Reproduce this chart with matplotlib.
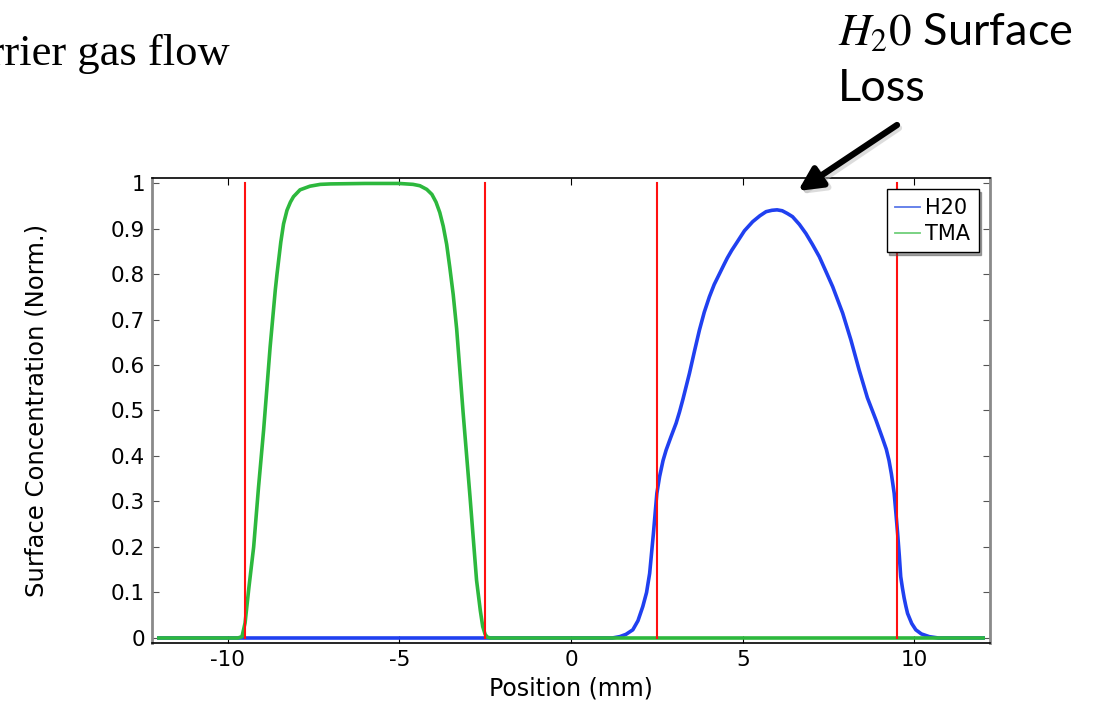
import numpy as np
import matplotlib
matplotlib.use("Agg")
import matplotlib.pyplot as plt
from matplotlib.patches import FancyArrowPatch
from matplotlib.ticker import FuncFormatter

plt.rcParams['font.family'] = ['DejaVu Sans']
plt.rcParams['mathtext.fontset'] = 'stix'
plt.rcParams['axes.unicode_minus'] = False

# surface concentration profiles along the reactor (normalised)
tma_x = [-12, -9.7, -9.58, -9.49, -9.38, -9.24, -9.1, -8.95, -8.76, -8.61, -8.56,
         -8.45, -8.37, -8.27, -8.17, -8.08, -7.89, -7.6, -7.3, -7.0, -6.0, -5.0,
         -4.6, -4.4, -4.2, -4.05, -3.93, -3.82, -3.72, -3.62, -3.53, -3.43, -3.33,
         -3.14, -2.94, -2.75, -2.64, -2.57, -2.5, -2.44, -2.35, 12]
tma_y = [0, 0, 0.003, 0.033, 0.11, 0.2, 0.33, 0.457, 0.64, 0.765, 0.8,
         0.87, 0.91, 0.94, 0.958, 0.97, 0.985, 0.993, 0.997, 0.998, 0.999, 0.999,
         0.997, 0.994, 0.986, 0.975, 0.958, 0.935, 0.905, 0.865, 0.815, 0.755, 0.68,
         0.494, 0.31, 0.127, 0.06, 0.025, 0.008, 0.002, 0, 0]

h2o_x = [-12, 1.2, 1.42, 1.6, 1.8, 1.95, 2.09, 2.2, 2.29, 2.4, 2.5, 2.58, 2.68,
         2.77, 2.9, 3.06, 3.16, 3.26, 3.45, 3.6, 3.74, 3.88, 4.03, 4.17, 4.32,
         4.45, 4.55, 4.68, 4.81, 5.05, 5.29, 5.5, 5.68, 5.85, 6.0, 6.15, 6.3,
         6.45, 6.65, 6.84, 7.03, 7.23, 7.42, 7.62, 7.91, 8.15, 8.39, 8.63, 8.88,
         9.07, 9.18, 9.26, 9.33, 9.41, 9.46, 9.51, 9.56, 9.6, 9.65, 9.7, 9.75,
         9.8, 9.92, 10.04, 10.2, 10.43, 10.7, 12]
h2o_y = [0, 0, 0.003, 0.008, 0.018, 0.038, 0.069, 0.1, 0.142, 0.23, 0.318, 0.355,
         0.39, 0.413, 0.44, 0.472, 0.497, 0.525, 0.582, 0.632, 0.677, 0.716, 0.75,
         0.777, 0.8, 0.82, 0.835, 0.852, 0.867, 0.895, 0.915, 0.928, 0.937, 0.94,
         0.941, 0.939, 0.933, 0.926, 0.909, 0.889, 0.865, 0.838, 0.806, 0.772,
         0.714, 0.655, 0.589, 0.528, 0.479, 0.439, 0.415, 0.39, 0.36, 0.318,
         0.275, 0.23, 0.18, 0.135, 0.11, 0.088, 0.07, 0.054, 0.032, 0.018, 0.009,
         0.003, 0, 0]

# inlet / outlet edges
edges = [-9.5, -2.5, 2.5, 9.5]

xticks = [-10, -5, 0, 5, 10]
yticks = [0, 0.1, 0.2, 0.3, 0.4, 0.5, 0.6, 0.7, 0.8, 0.9, 1]

W, H = 1102, 703
fig = plt.figure(figsize=(W / 100, H / 100), dpi=100)
ax = fig.add_axes([152 / W, 1 - 643 / H, (990 - 152) / W, (643 - 178) / H])

ax.plot(h2o_x, h2o_y, color='#2040f0', lw=2.6, label='H20', solid_joinstyle='round')
ax.plot(tma_x, tma_y, color='#2db83d', lw=2.6, label='TMA', solid_joinstyle='round')
for e in edges:
    ax.plot([e, e], [0, 1], color='#ff1010', lw=1.5)

ax.set_xlim(-12.2, 12.2)
ax.set_ylim(-0.011, 1.011)
ax.set_xticks(xticks)
ax.set_yticks(yticks)
ax.yaxis.set_major_formatter(FuncFormatter(lambda v, p: ('%g' % v)))
ax.tick_params(direction='in', length=5, labelsize=15.5, top=True, right=True,
               pad=5, color='black')
ax.tick_params(axis='y', colors='#555555', labelcolor='black')
for s in ['left', 'right']:
    ax.spines[s].set_color('#8a8a8a')
    ax.spines[s].set_linewidth(2)
for s in ['top', 'bottom']:
    ax.spines[s].set_color('black')
    ax.spines[s].set_linewidth(1.2)

ax.set_xlabel('Position (mm)', fontsize=17, labelpad=0)
ax.set_ylabel('Surface Concentration (Norm.)', fontsize=17.5)
ax.yaxis.set_label_coords(-0.124, 0.5)
ax.xaxis.set_label_coords(0.5, -0.072)

leg = ax.legend(loc='upper right', fontsize=15, frameon=True, fancybox=False,
                shadow=True, handlelength=1.2, handletextpad=0.25,
                borderaxespad=0.55, labelspacing=0.3, borderpad=0.4)
leg.get_frame().set_edgecolor('black')
leg.get_frame().set_linewidth(1)
for ln, c in zip(leg.get_lines(), ['#5a78e8', '#6fcf7a']):
    ln.set_linewidth(1.3)
    ln.set_color(c)

# slide text around the plot
fig.text(230 / W, 1 - 65 / H, 'carrier gas flow', ha='right', va='baseline',
         fontsize=32, family='Liberation Serif')
fig.text(838 / W, 1 - 45 / H, r'$H_2 0$ Surface', ha='left', va='baseline',
         fontsize=32.5, family='Lato')
fig.text(838 / W, 1 - 101 / H, 'Loss', ha='left', va='baseline',
         fontsize=32.5, family='Lato')

shadow = FancyArrowPatch((899 / W, 1 - 128 / H), (801 / W, 1 - 194 / H),
                         transform=fig.transFigure, arrowstyle='-|>,head_length=14,head_width=7',
                         lw=4.5, color='#bbbbbb', alpha=0.5, shrinkA=0, shrinkB=0)
fig.add_artist(shadow)
arrow = FancyArrowPatch((897 / W, 1 - 125 / H), (798 / W, 1 - 191 / H),
                        transform=fig.transFigure, arrowstyle='-|>,head_length=14,head_width=7',
                        lw=4.5, color='black', shrinkA=0, shrinkB=0)
fig.add_artist(arrow)

fig.savefig('out.png', dpi=100)
